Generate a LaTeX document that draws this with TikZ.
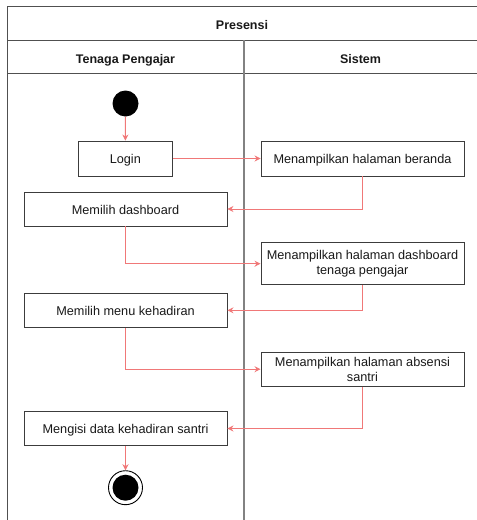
\documentclass[tikz,border=0pt]{standalone}
\usepackage{fontspec}
\setmainfont{Liberation Sans}
\usetikzlibrary{arrows.meta}
\definecolor{flow}{RGB}{240,120,120}
\definecolor{frame}{RGB}{80,80,80}
\definecolor{lane}{RGB}{130,130,130}
\definecolor{boxline}{RGB}{60,60,60}
\definecolor{txt}{RGB}{25,25,25}
\begin{document}
\begin{tikzpicture}[x=1pt,y=-1pt,
  act/.style={draw=boxline,line width=0.9pt,fill=white,rectangle,inner sep=0pt,text=txt,
    font=\fontsize{12.7}{15}\selectfont,align=center},
  oneline/.style={text height=10.4pt,text depth=0pt},
  flowline/.style={draw=flow,line width=0.9pt,-{Stealth[length=6pt,width=6pt]}},
  head/.style={font=\bfseries\fontsize{12.5}{15}\selectfont,text=txt,inner sep=0pt,
    text height=10.4pt,text depth=0pt}]
\useasboundingbox (0,0) rectangle (477,520);
% frame
\draw[frame,line width=1pt] (7,520) -- (7,6) -- (477,6);
\draw[frame,line width=1pt] (7,40) -- (477,40);
\draw[frame,line width=1pt] (7,73) -- (477,73);
\draw[lane,line width=1.6pt] (244,40) -- (244,520);
\node[head] (title) at (242,24.5) {Presensi};
\node[head] (laneA) at (125.5,58.5) {Tenaga Pengajar};
\node[head] (laneB) at (360.5,58.5) {Sistem};
% nodes
\node[circle,fill=black,minimum size=26pt,inner sep=0pt] (start) at (125.5,103.5) {};
\node[act,oneline,minimum width=94pt,minimum height=35pt] (login) at (125.3,158.5) {Login};
\node[act,oneline,minimum width=203pt,minimum height=35pt] (beranda) at (362.5,158.5) {Menampilkan halaman beranda};
\node[act,oneline,minimum width=203pt,minimum height=34pt] (dash) at (125.5,209) {Memilih dashboard};
\node[act,minimum width=203pt,minimum height=42pt] (sdash) at (362.5,263.7) {Menampilkan halaman dashboard\\tenaga pengajar};
\node[act,oneline,minimum width=203pt,minimum height=34pt] (menu) at (125.5,310.3) {Memilih menu kehadiran};
\node[act,minimum width=203pt,minimum height=34pt] (absen) at (362.5,369.2) {Menampilkan halaman absensi\\santri};
\node[act,oneline,minimum width=203pt,minimum height=34pt] (isi) at (125.5,428.5) {Mengisi data kehadiran santri};
\node[circle,draw=black,line width=0.9pt,fill=white,minimum size=34pt,inner sep=0pt] (end) at (125.5,487.7) {};
\node[circle,fill=black,minimum size=26pt,inner sep=0pt] (endin) at (end.center) {};
% flows
\draw[flowline] (start) -- (login);
\draw[flowline] (login) -- (beranda);
\draw[flowline] (beranda.south) |- (dash.east);
\draw[flowline] (dash.south) |- (sdash.west);
\draw[flowline] (sdash.south) |- (menu.east);
\draw[flowline] (menu.south) |- (absen.west);
\draw[flowline] (absen.south) |- (isi.east);
\draw[flowline] (isi) -- (end);
\end{tikzpicture}
\end{document}
